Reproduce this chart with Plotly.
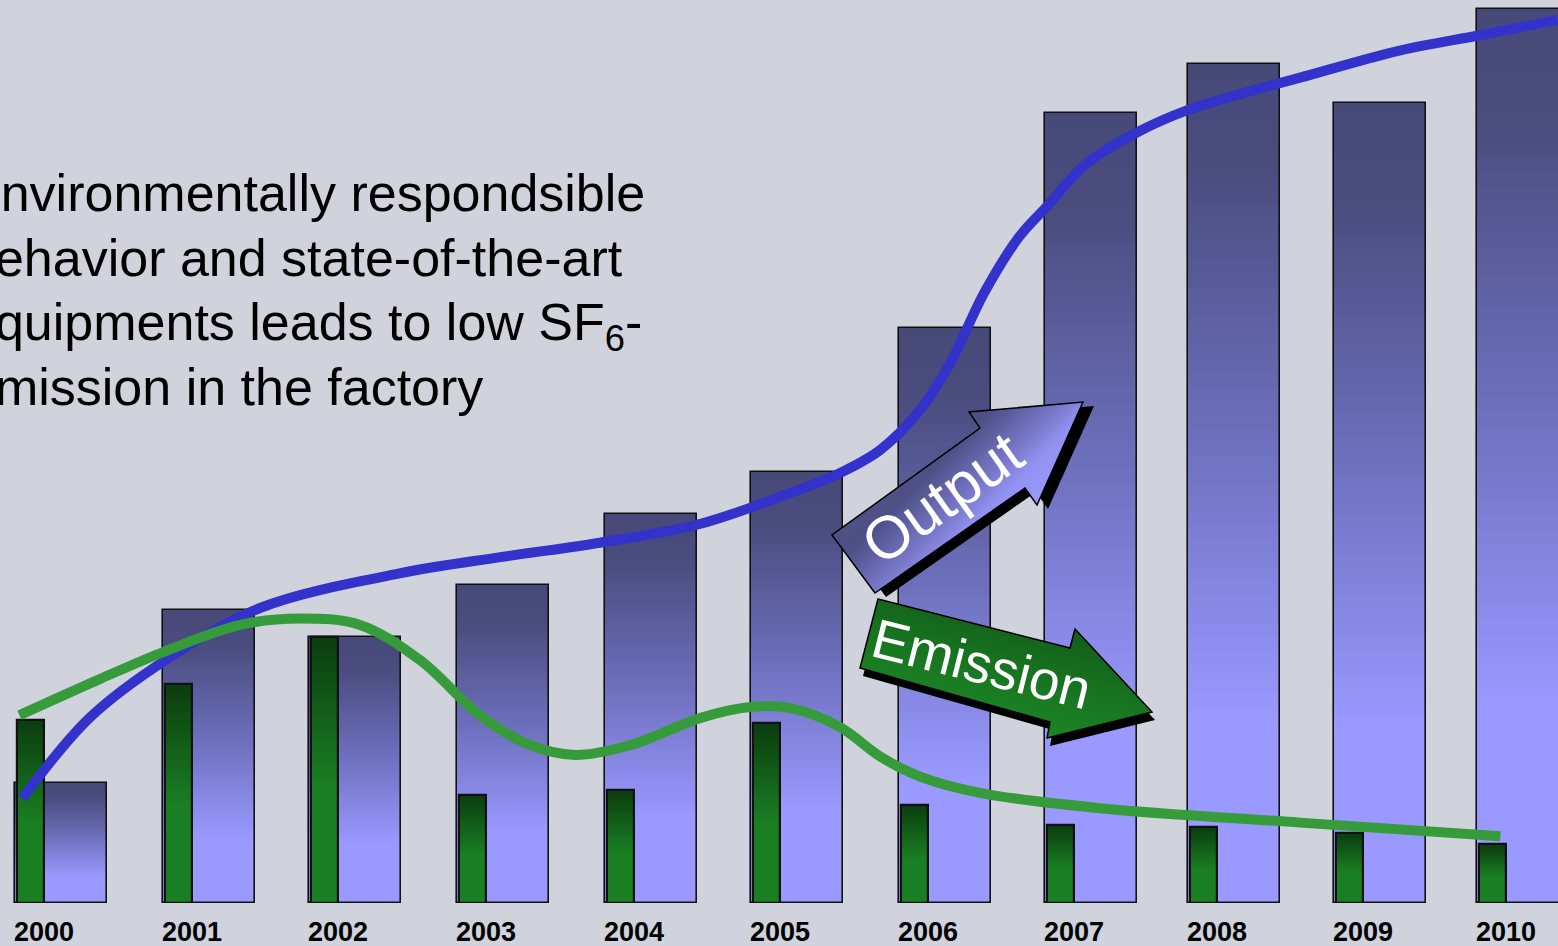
import numpy as np
import plotly.graph_objects as go

# ---------------- data ----------------
years = list(range(2000, 2011))
year_labels = [str(y) for y in years]
output_values = [13.3, 32.4, 29.5, 35.2, 43.1, 47.7, 63.7, 87.5, 92.9, 88.6, 99.0]
emission_values = [20.3, 24.3, 29.5, 12.0, 12.5, 19.9, 10.9, 8.6, 8.4, 7.8, 6.5]

output_trend_x = [2000.05, 2000.51, 2001.03, 2001.68, 2002.63, 2003.32, 2004.00, 2004.69,
                  2005.30, 2005.64, 2005.92, 2006.19, 2006.40, 2006.63, 2006.87, 2007.05,
                  2007.33, 2007.67, 2008.02, 2008.47, 2008.79, 2009.47, 2010.02, 2010.55]
output_trend_y = [11.6, 20.5, 26.9, 32.7, 36.5, 38.3, 39.9, 42.0,
                  45.4, 47.6, 50.2, 54.6, 59.9, 67.6, 73.8, 77.0,
                  81.9, 85.3, 87.8, 90.0, 91.4, 94.4, 96.1, 97.8]

emission_trend_x = [2000.03, 2000.58, 2001.03, 2001.54, 2001.95, 2002.36, 2002.77, 2003.18,
                    2003.52, 2003.83, 2004.21, 2004.69, 2005.03, 2005.30, 2005.64, 2005.92,
                    2006.19, 2006.60, 2007.42, 2008.79, 2010.16]
emission_trend_y = [20.8, 24.8, 27.9, 30.8, 31.5, 30.8, 26.9, 20.8,
                    17.5, 16.4, 17.5, 20.5, 21.7, 21.6, 19.5, 16.2,
                    14.0, 12.2, 10.5, 8.9, 7.4]

caption_lines = ["Environmentally respondsible", "behavior and state-of-the-art",
                 "equipments leads to low SF<sub>6</sub>-", "emission in the factory"]

# ---------------- styling ----------------
BG = "#D0D3DC"
W, H = 1558, 946
PLOT_B = 43
PLOT_H = H - PLOT_B
PX_PER_YEAR = 146.2
FIRST_BAR_PX = 15
BLUE_W, GREEN_W = 0.63, 0.185
GREEN_SHIFT_PX = 1.5
# small per-bar placement tweaks (pixels) so the bars sit where the original slide drew them
bar_left_px = [15, 163, 309, 457, 605, 751, 899, 1045, 1188, 1334, 1477]
N_SLICES = 60

blue_offsets = [(p - (FIRST_BAR_PX + PX_PER_YEAR * i)) / PX_PER_YEAR for i, p in enumerate(bar_left_px)]
green_offsets = [o + GREEN_SHIFT_PX / PX_PER_YEAR for o in blue_offsets]

blue_stops = [(0.0, (71, 73, 120)), (0.12, (74, 76, 126)), (0.45, (110, 112, 190)),
              (0.78, (153, 153, 255)), (1.0, (153, 153, 255))]
green_stops = [(0.0, (10, 60, 15)), (0.55, (26, 126, 34)), (1.0, (26, 127, 34))]


def interp(stops, t):
    t = min(max(t, 0.0), 1.0)
    for (p0, c0), (p1, c1) in zip(stops[:-1], stops[1:]):
        if p0 <= t <= p1:
            f = 0 if p1 == p0 else (t - p0) / (p1 - p0)
            return "rgb(%d,%d,%d)" % tuple(round(a + (b - a) * f) for a, b in zip(c0, c1))
    return "rgb(%d,%d,%d)" % stops[-1][1]


fig = go.Figure()


def add_gradient_bars(vals, width, offsets, stops, line_w):
    vals = np.array(vals, dtype=float)
    for k in range(N_SLICES):
        frac_top = 1 - (k + 0.5) / N_SLICES
        h = vals / N_SLICES * (1.0 if k == N_SLICES - 1 else 1.6)
        fig.add_trace(go.Bar(x=years, y=h, base=vals * k / N_SLICES, width=width, offset=offsets,
                             marker=dict(color=interp(stops, frac_top), line=dict(width=0)),
                             showlegend=False, hoverinfo="skip"))
    fig.add_trace(go.Bar(x=years, y=vals, width=width, offset=offsets,
                         marker=dict(color="rgba(0,0,0,0)", line=dict(color="#111111", width=line_w)),
                         showlegend=False, hoverinfo="skip"))


add_gradient_bars(output_values, BLUE_W, blue_offsets, blue_stops, 1.6)
add_gradient_bars(emission_values, GREEN_W, green_offsets, green_stops, 2.2)

fig.add_trace(go.Scatter(x=output_trend_x, y=output_trend_y, mode="lines",
                         line=dict(color="#3333CC", width=10, shape="spline"),
                         showlegend=False, hoverinfo="skip"))
fig.add_trace(go.Scatter(x=emission_trend_x, y=emission_trend_y, mode="lines",
                         line=dict(color="#369B3A", width=10, shape="spline"),
                         showlegend=False, hoverinfo="skip"))

# ---------------- arrows (decoration, pixel geometry) ----------------
def px2paper(p):
    return (p[0] / W, (PLOT_H - p[1]) / PLOT_H)


def path_of(poly):
    pts = [px2paper(p) for p in poly]
    return "M " + " L ".join("%.5f,%.5f" % q for q in pts) + " Z"


def clip_half(poly, d, c, keep_ge):
    out = []
    n = len(poly)
    for i in range(n):
        a, b = poly[i], poly[(i + 1) % n]
        fa = a[0] * d[0] + a[1] * d[1] - c
        fb = b[0] * d[0] + b[1] * d[1] - c
        if not keep_ge:
            fa, fb = -fa, -fb
        if fa >= 0:
            out.append(a)
        if (fa >= 0) != (fb >= 0):
            t = fa / (fa - fb)
            out.append((a[0] + (b[0] - a[0]) * t, a[1] + (b[1] - a[1]) * t))
    return out


shapes = []


def gradient_polygon(poly, d, stops, shadow_shift, n=40):
    sx, sy = shadow_shift
    shapes.append(dict(type="path", path=path_of([(x + sx, y + sy) for x, y in poly]),
                       xref="paper", yref="paper", fillcolor="black", line=dict(width=0), layer="above"))
    proj = [p[0] * d[0] + p[1] * d[1] for p in poly]
    t0, t1 = min(proj), max(proj)
    step = (t1 - t0) / n
    for i in range(n):
        lo = t0 + i * step - (0 if i == 0 else 0.8)
        hi = t0 + (i + 1) * step
        band = clip_half(clip_half(poly, d, lo, True), d, hi, False)
        if len(band) < 3:
            continue
        col = interp(stops, (i + 0.5) / n)
        shapes.append(dict(type="path", path=path_of(band), xref="paper", yref="paper",
                           fillcolor=col, line=dict(width=0), layer="above"))
    shapes.append(dict(type="path", path=path_of(poly), xref="paper", yref="paper",
                       fillcolor="rgba(0,0,0,0)", line=dict(color="black", width=1.5), layer="above"))


output_arrow = [(875, 593), (832, 535), (980, 428), (969, 412), (1083, 402), (1037, 505), (1025, 488)]
emission_arrow = [(878, 599), (1070, 648), (1075, 629), (1152, 712), (1047, 738), (1050, 722), (860, 668)]

gradient_polygon(output_arrow, (0.7071, 0.7071),
                 [(0.0, (80, 82, 135)), (0.2, (77, 79, 133)), (0.6, (124, 124, 208)),
                  (0.75, (146, 146, 242)), (1.0, (153, 153, 255))], (11, 4))
gradient_polygon(emission_arrow, (-0.26, 0.966),
                 [(0.0, (19, 92, 24)), (0.5, (24, 116, 32)), (1.0, (28, 133, 38))], (3, 8))

annotations = []
for i, line in enumerate(caption_lines):
    baseline = 210 + 64.5 * i
    top = baseline - 48
    annotations.append(dict(text=line, x=-36 / W, y=(PLOT_H - top) / PLOT_H, xref="paper", yref="paper",
                            xanchor="left", yanchor="top", showarrow=False, align="left",
                            font=dict(family="Liberation Sans, Arial, sans-serif", size=52, color="black")))

annotations.append(dict(text="Output", x=942 / W, y=(PLOT_H - 498) / PLOT_H, xref="paper", yref="paper",
                        xanchor="center", yanchor="middle", showarrow=False, textangle=-35.5,
                        font=dict(family="Liberation Sans, Arial, sans-serif", size=60, color="white")))
annotations.append(dict(text="Emission", x=981 / W, y=(PLOT_H - 664) / PLOT_H, xref="paper", yref="paper",
                        xanchor="center", yanchor="middle", showarrow=False, textangle=14,
                        font=dict(family="Liberation Sans, Arial, sans-serif", size=55, color="white")))

x0 = 2000 - FIRST_BAR_PX / PX_PER_YEAR
x1 = 2000 + (W - FIRST_BAR_PX) / PX_PER_YEAR
fig.update_layout(
    width=W, height=H,
    margin=dict(l=0, r=0, t=0, b=PLOT_B, autoexpand=False),
    paper_bgcolor=BG, plot_bgcolor=BG,
    barmode="overlay", bargap=0,
    shapes=shapes, annotations=annotations,
    xaxis=dict(range=[x0, x1], tickvals=[y + o + 0.198 for y, o in zip(years, blue_offsets)], ticktext=year_labels,
               tickfont=dict(family="Liberation Sans, Arial, sans-serif", size=27, color="black", weight="bold"),
               showgrid=False, zeroline=False, showline=False, ticks="", ticklabelstandoff=10,
               automargin=False, fixedrange=True),
    yaxis=dict(range=[0, 100], visible=False, showgrid=False, zeroline=False, automargin=False, fixedrange=True),
)

fig.write_html("out.html")
